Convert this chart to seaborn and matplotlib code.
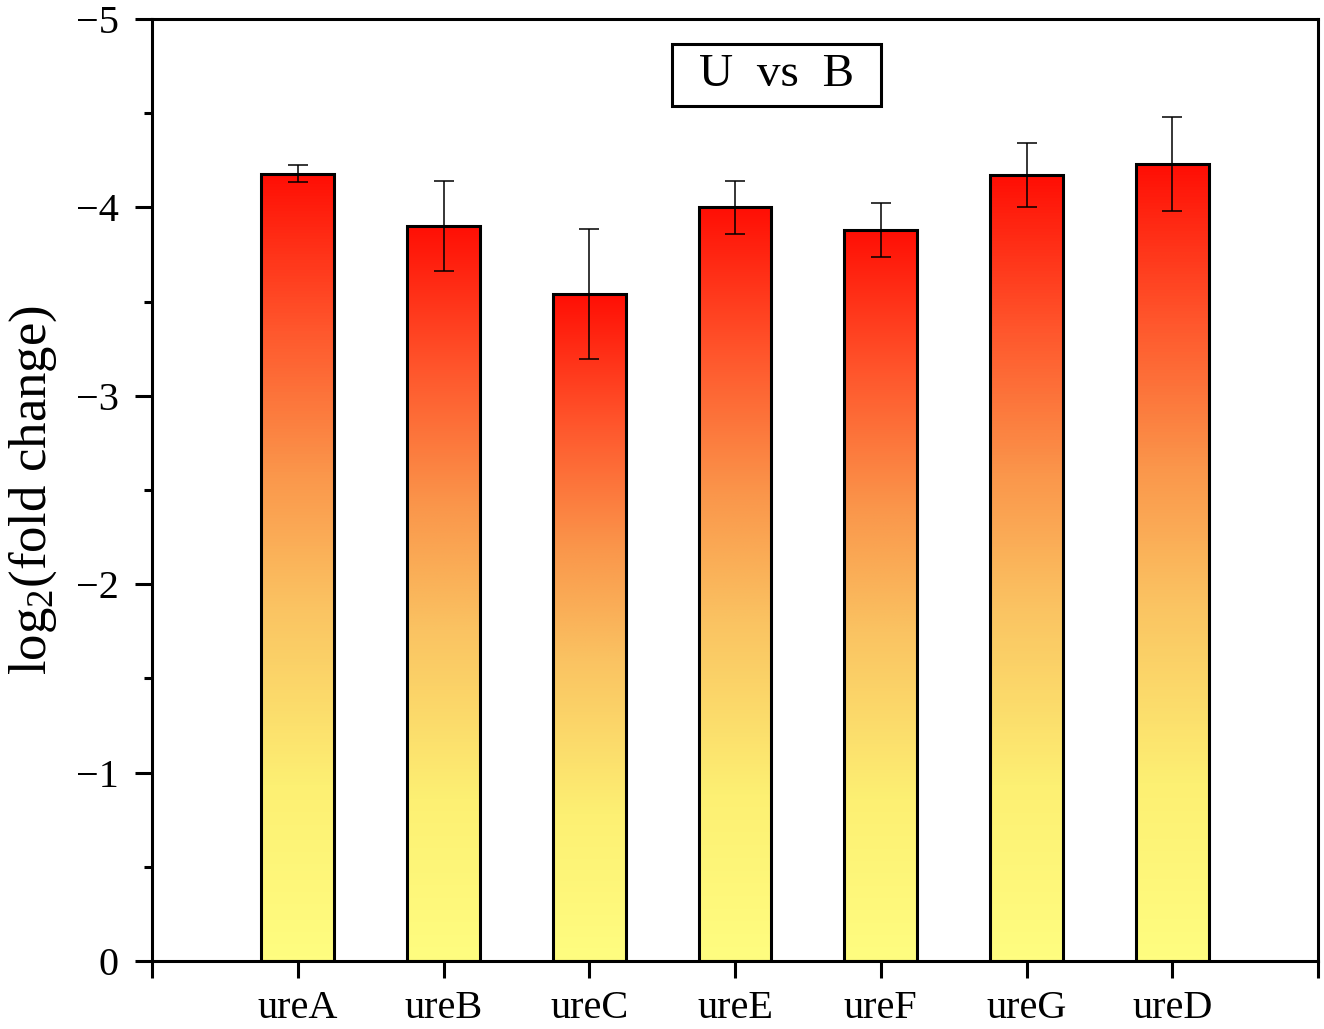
import numpy as np
import pandas as pd
import matplotlib
matplotlib.use('Agg')
import matplotlib.pyplot as plt
import seaborn as sns
from matplotlib.colors import LinearSegmentedColormap
from matplotlib.patches import Rectangle
from matplotlib.ticker import MultipleLocator

# ---- data ----
genes = ['ureA', 'ureB', 'ureC', 'ureE', 'ureF', 'ureG', 'ureD']
log2fc = [-4.18, -3.90, -3.54, -4.00, -3.88, -4.17, -4.23]
err = [0.045, 0.24, 0.345, 0.14, 0.145, 0.17, 0.25]
yticks = [0, -1, -2, -3, -4, -5]
xtick_pos = [-1, 0, 1, 2, 3, 4, 5, 6, 7]
xtick_labels = [''] + genes + ['']
box_text = 'U  vs  B'
ylabel = r'$\mathregular{log_2}$(fold change)'

sns.set_theme(style='ticks')
plt.rcParams['font.family'] = ['Liberation Serif', 'DejaVu Serif']
plt.rcParams['mathtext.fontset'] = 'custom'
plt.rcParams['mathtext.rm'] = 'Liberation Serif'
plt.rcParams['axes.edgecolor'] = 'black'
plt.rcParams['xtick.color'] = 'black'
plt.rcParams['ytick.color'] = 'black'
plt.rcParams['text.color'] = 'black'
plt.rcParams['axes.labelcolor'] = 'black'

cmap = LinearSegmentedColormap.from_list('yor', [
    (0.00, (255/255, 253/255, 128/255)),
    (0.22, (253/255, 240/255, 115/255)),
    (0.45, (250/255, 195/255, 98/255)),
    (0.62, (250/255, 150/255, 75/255)),
    (0.80, (255/255, 88/255, 45/255)),
    (1.00, (255/255, 15/255, 5/255)),
])

fig, ax = plt.subplots(figsize=(13.24, 10.29), dpi=100)
fig.subplots_adjust(left=0.1148, right=0.9955, bottom=0.0661, top=0.9815)

df = pd.DataFrame({'gene': genes, 'val': log2fc})
sns.barplot(data=df, x='gene', y='val', ax=ax, width=0.5, color='white',
            saturation=1, edgecolor='black', linewidth=2.2, errorbar=None, zorder=3)

grad = np.linspace(0, 1, 256).reshape(-1, 1)
for p in ax.patches:
    x0 = p.get_x()
    w = p.get_width()
    h = p.get_height()
    p.set_facecolor('none')
    ax.imshow(grad, cmap=cmap, origin='lower', aspect='auto',
              extent=(x0, x0 + w, 0, h), zorder=2, interpolation='bilinear')

ax.errorbar(x=np.arange(len(genes)), y=log2fc, yerr=err, fmt='none',
            ecolor='black', elinewidth=1.1, capsize=7.5, capthick=1.1, zorder=4)

ax.set_xlim(-1, 7)
ax.set_ylim(0, -5)
ax.set_yticks(yticks)
ax.yaxis.set_minor_locator(MultipleLocator(0.5))
ax.set_xticks(xtick_pos)
ax.set_xticklabels(xtick_labels)

for s in ax.spines.values():
    s.set_visible(True)
    s.set_linewidth(2.2)
    s.set_color('black')

ax.tick_params(axis='both', which='major', direction='out', length=12, width=2.2,
               labelsize=29, top=False, right=False)
ax.tick_params(axis='y', which='major', pad=12)
ax.tick_params(axis='x', which='major', pad=9)
ax.tick_params(axis='y', which='minor', direction='out', length=6, width=2.2, right=False)
ax.tick_params(axis='x', which='minor', bottom=False, top=False)

ax.set_xlabel('')
ax.set_ylabel(ylabel, fontsize=38, labelpad=12)

# boxed annotation
ax.add_patch(Rectangle((0.446, 0.9076), 0.179, 0.0659, transform=ax.transAxes,
                       facecolor='white', edgecolor='black', linewidth=2.2, zorder=5))
ax.text(0.5355, 0.9405, box_text, transform=ax.transAxes, ha='center', va='center',
        fontsize=34, zorder=6)

fig.savefig('out.png', dpi=100)
